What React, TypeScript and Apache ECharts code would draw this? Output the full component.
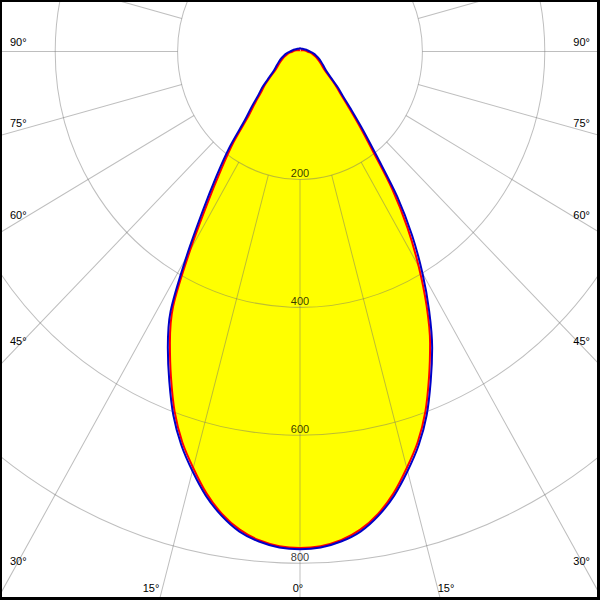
import React, { useEffect, useRef } from "react";
import * as echarts from "echarts";

// ---- data ----
const gammaAngles = [0, 2.5, 5, 7.5, 10, 12.5, 15, 17.5, 20, 22.5, 25, 27.5, 30, 32.5, 35, 37.5, 40, 42.5, 45, 47.5, 50, 55, 60, 65, 70, 75, 80, 85, 90, 100, 110, 120, 135, 150, 165, 180];

const blueLeft = [778, 776, 769, 757, 737, 711, 679, 645, 605, 558, 511, 458, 372, 296, 238, 190, 140, 116, 96, 84, 70, 52, 44, 38, 33, 28, 24, 20, 16, 12, 9, 7, 6, 5, 5, 5];
const blueRight = [778, 776, 769, 757, 737, 711, 679, 645, 605, 558, 511, 457, 400, 341, 277, 206, 160, 125, 100, 85, 70, 52, 44, 38, 33, 28, 24, 20, 16, 12, 9, 7, 6, 5, 5, 5];
const redLeft = [776, 774, 767, 754, 734, 707, 674, 640, 599, 551, 503, 449, 360, 282, 224, 178, 130, 108, 90, 79, 66, 48, 40, 34, 29, 24, 20, 16, 12, 9, 6, 4, 3, 2, 2, 2];
const redRight = [776, 774, 767, 754, 734, 707, 674, 640, 599, 551, 503, 448, 388, 327, 263, 194, 150, 117, 94, 80, 66, 48, 40, 34, 29, 24, 20, 16, 12, 9, 6, 4, 3, 2, 2, 2];

const radiusTicks = [200, 400, 600, 800];
const angleTickLabels = ["90°", "75°", "60°", "45°", "30°", "15°", "0°", "15°", "30°", "45°", "60°", "75°", "90°"];

// ---- layout (final-pixel positions of angle labels) ----
const angleLabelLayout: [number, number, string][] = [
  [10, 42, "left"], [10, 123, "left"], [10, 215, "left"], [10, 341, "left"], [10, 561, "left"],
  [151, 588, "center"], [298, 588, "center"], [446, 588, "center"],
  [590, 561, "right"], [590, 341, "right"], [590, 215, "right"], [590, 123, "right"], [590, 42, "right"],
];

const W = 600;
const H = 574;
const K = 600 / H;
const CY = 51.5 / K;
const UNIT = 0.612;
const RMAX = 1000;
const FONT = '11px "Liberation Sans", Arial, sans-serif';
const GRID = "rgba(110,110,110,0.45)";
const SMOOTH = 0.3;

function buildCurve(left: number[], right: number[]) {
  const pts: number[][] = [];
  for (let i = gammaAngles.length - 1; i >= 0; i--) pts.push([left[i], gammaAngles[i]]);
  for (let i = 1; i < gammaAngles.length; i++) pts.push([right[i], 360 - gammaAngles[i]]);
  return pts;
}

export default function App() {
  const ref = useRef<HTMLDivElement>(null);
  useEffect(() => {
    if (!ref.current) return;
    const chart = echarts.init(ref.current, null, { renderer: "svg" });
    const redData = buildCurve(redLeft, redRight);
    const blueData = buildCurve(blueLeft, blueRight);

    const texts = angleTickLabels.map((t, i) => {
      const [x, y, align] = angleLabelLayout[i];
      return {
        type: "text",
        x,
        y: y / K,
        z: 100,
        style: {
          text: t,
          fill: "#000",
          font: FONT,
          align,
          textAlign: align,
          verticalAlign: "middle",
          textVerticalAlign: "middle",
        },
      };
    });

    const border = [
      { type: "rect", shape: { x: 0, y: 0, width: 2, height: H }, style: { fill: "#000" }, z: 100 },
      { type: "rect", shape: { x: 0, y: 0, width: W, height: 2 / K }, style: { fill: "#000" }, z: 100 },
      { type: "rect", shape: { x: W - 3, y: 0, width: 3, height: H }, style: { fill: "#000" }, z: 100 },
      { type: "rect", shape: { x: 0, y: H - 3 / K, width: W, height: 3 / K }, style: { fill: "#000" }, z: 100 },
    ];

    chart.setOption({
      animation: false,
      backgroundColor: "#fff",
      polar: [
        { center: [300, CY], radius: [200 * UNIT, RMAX * UNIT] },
        { center: [300, CY], radius: [0, RMAX * UNIT] },
      ],
      angleAxis: [
        {
          polarIndex: 0, type: "value", min: 0, max: 360, interval: 15, startAngle: 270, clockwise: true,
          axisLine: { show: false }, axisTick: { show: false }, axisLabel: { show: false },
          splitLine: { show: true, lineStyle: { color: GRID, width: 1 } }, z: 3,
        },
        { polarIndex: 1, type: "value", min: 0, max: 360, startAngle: 270, clockwise: true, show: false },
      ],
      radiusAxis: [
        {
          polarIndex: 0, type: "value", min: 200, max: RMAX, interval: 200,
          axisLine: { show: false }, axisTick: { show: false }, axisLabel: { show: false },
          splitLine: { show: true, lineStyle: { color: GRID, width: 1 } }, z: 3,
        },
        { polarIndex: 1, type: "value", min: 0, max: RMAX, show: false },
      ],
      graphic: [...border, ...texts],
      series: [
        {
          type: "line", coordinateSystem: "polar", polarIndex: 1, data: redData, smooth: SMOOTH,
          showSymbol: false, silent: true, lineStyle: { width: 0 },
          areaStyle: { color: "#ffff00", opacity: 1 }, z: 1,
        },
        {
          type: "line", coordinateSystem: "polar", polarIndex: 1, data: redData, smooth: SMOOTH,
          showSymbol: false, silent: true, lineStyle: { color: "#ff0000", width: 2 }, z: 4,
        },
        {
          type: "line", coordinateSystem: "polar", polarIndex: 1, data: blueData, smooth: SMOOTH,
          showSymbol: false, silent: true, lineStyle: { color: "#0000c8", width: 2 }, z: 5,
        },
        {
          type: "scatter", coordinateSystem: "polar", polarIndex: 1,
          data: radiusTicks.map((v) => [v, 0]), symbolSize: 0, silent: true, z: 6,
          label: {
            show: true, position: "top", distance: 1, color: "#000",
            fontSize: 11, fontFamily: '"Liberation Sans", Arial, sans-serif',
            formatter: (p: any) => String(p.value[0]),
          },
        },
      ],
    });
    return () => chart.dispose();
  }, []);

  return (
    <div style={{ position: "fixed", left: 0, top: 0, width: 600, height: 600, overflow: "hidden", background: "#fff" }}>
      <div
        ref={ref}
        style={{ width: W, height: H, transform: `scaleY(${K})`, transformOrigin: "0 0" }}
      />
    </div>
  );
}
